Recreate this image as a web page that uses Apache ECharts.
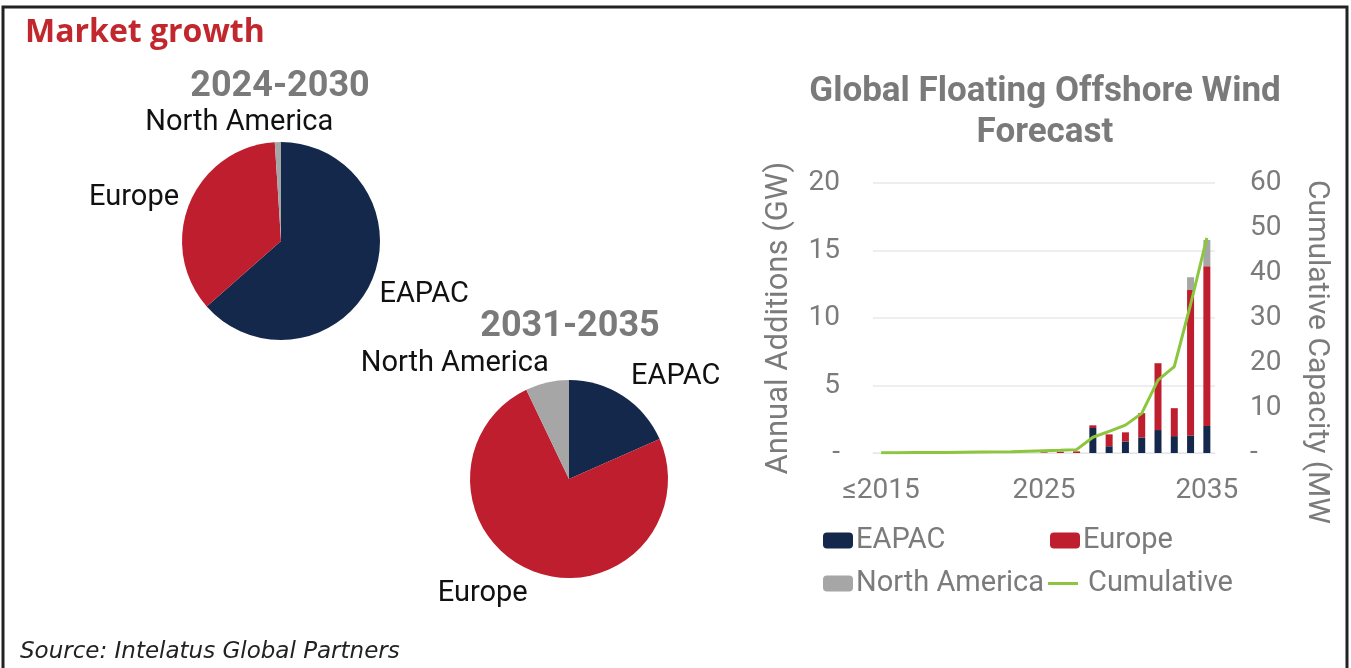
<!DOCTYPE html>
<html>
<head>
<meta charset="utf-8">
<script src="https://cdn.jsdelivr.net/npm/echarts@6/dist/echarts.min.js"></script>
<style>
html,body{margin:0;padding:0;background:#fff;}
#chart{width:1351px;height:668px;}
</style>
</head>
<body>
<div id="chart"></div>
<script>
// ---- Data ----
const years = ['≤2015','2016','2017','2018','2019','2020','2021','2022','2023','2024','2025','2026','2027','2028','2029','2030','2031','2032','2033','2034','2035'];
const eapac  = [0,0,0,0,0,0,0,0,0,0,0,0,0,1.85,0.5,0.85,1.15,1.7,1.25,1.3,2.0];
const europe = [0,0,0,0,0,0,0,0,0,0,0.05,0.1,0.12,0.2,0.88,0.68,1.8,4.95,2.07,10.77,11.83];
const northAmerica = [0,0,0,0,0,0,0,0,0,0,0,0,0,0,0,0,0,0,0,0.95,1.95];
const cumulative = [0.05,0.05,0.1,0.1,0.1,0.15,0.2,0.25,0.3,0.4,0.5,0.6,0.75,3.5,4.8,6.2,8.8,16.2,19.2,33,47.8];
const leftTicks = [0,5,10,15,20];
const rightTicks = [0,10,20,30,40,50,60];

const pieRegions = ['EAPAC','Europe','North America'];
const pie2024_2030 = [63.5, 35.5, 1.0];
const pie2031_2035 = [18.4, 74.5, 7.1];

const COLORS = {EAPAC:'#14284b', Europe:'#be1e2d', 'North America':'#a6a6a6', Cumulative:'#8cc63e'};
const GRAY = '#7b7b7b';
const FONT = 'Roboto';

const chart = echarts.init(document.getElementById('chart'));

function pieData(vals){
  return pieRegions.map((n,i)=>({name:n, value:vals[i], itemStyle:{color:COLORS[n]}}));
}
const pieLabel = {show:true, position:'outside', formatter:'{b}', color:'#111', fontFamily:FONT, fontSize:29};
// label nudges (offsets only)
const pie1Nudge = [{dx:-15, dy:5}, {dx:13, dy:2}, {dx:61, dy:1}];
const pie2Nudge = [{dx:-8, dy:-3}, {dx:5, dy:3}, {dx:11, dy:1}];

const legendText = {color:GRAY, fontSize:29, fontFamily:FONT};

const option = {
  animation:false,
  backgroundColor:'#fff',
  textStyle:{fontFamily:FONT},
  grid:{left:873, right:136, top:183, bottom:215},
  xAxis:{
    type:'category', data:years,
    axisLine:{show:true, lineStyle:{color:'#e6e6e6'}},
    axisTick:{show:false},
    axisLabel:{interval:9, color:GRAY, fontSize:28, fontFamily:FONT, margin:24}
  },
  yAxis:[{
    type:'value', min:0, max:20, interval:5,
    name:'Annual Additions (GW)', nameLocation:'middle', nameRotate:90, nameGap:78,
    nameTextStyle:{color:GRAY, fontSize:31, fontFamily:FONT},
    axisLine:{show:false}, axisTick:{show:false},
    axisLabel:{color:GRAY, fontSize:28, fontFamily:FONT, margin:33, formatter:v=>v===0?'-':String(v)},
    splitLine:{lineStyle:{color:'#e9e9e9', width:1.5}}
  },{
    type:'value', min:0, max:60, interval:10, position:'right',
    axisLine:{show:false}, axisTick:{show:false},
    axisLabel:{color:GRAY, fontSize:28, fontFamily:FONT, margin:35, formatter:v=>v===0?'-':String(v)},
    splitLine:{show:false}
  }],
  legend:[
    {data:['EAPAC'], left:823, top:526, padding:0, itemWidth:30, itemHeight:16, itemGap:0, textStyle:Object.assign({padding:[0,0,0,-2]}, legendText)},
    {data:['Europe'], left:1050, top:526, padding:0, itemWidth:30, itemHeight:16, itemGap:0, textStyle:Object.assign({padding:[0,0,0,-2]}, legendText)},
    {data:['North America'], left:823, top:569, padding:0, itemWidth:30, itemHeight:16, itemGap:0, textStyle:Object.assign({padding:[0,0,0,-2]}, legendText)},
    {data:[{name:'Cumulative', icon:'rect'}], left:1048, top:569, padding:0, itemWidth:30, itemHeight:3, itemGap:0, textStyle:Object.assign({padding:[0,0,0,5]}, legendText)}
  ],
  series:[
    {name:'EAPAC', type:'bar', stack:'a', data:eapac, barWidth:7, itemStyle:{color:COLORS.EAPAC}},
    {name:'Europe', type:'bar', stack:'a', data:europe, barWidth:7, itemStyle:{color:COLORS.Europe}},
    {name:'North America', type:'bar', stack:'a', data:northAmerica, barWidth:7, itemStyle:{color:COLORS['North America']}},
    {name:'Cumulative', type:'line', yAxisIndex:1, data:cumulative, symbol:'none', showSymbol:false,
     lineStyle:{color:COLORS.Cumulative, width:3}, itemStyle:{color:COLORS.Cumulative}, z:5},
    {name:'2024-2030', type:'pie', center:[281,241], radius:[0,99], startAngle:90, clockwise:true,
     avoidLabelOverlap:false, data:pieData(pie2024_2030), label:pieLabel,
     labelLine:{show:false, length:20, length2:0},
     labelLayout:function(p){ return pie1Nudge[p.dataIndex]; }},
    {name:'2031-2035', type:'pie', center:[569,479], radius:[0,99], startAngle:90, clockwise:true,
     avoidLabelOverlap:false, data:pieData(pie2031_2035), label:pieLabel,
     labelLine:{show:false, length:20, length2:0},
     labelLayout:function(p){ return pie2Nudge[p.dataIndex]; }}
  ],
  graphic:[
    {type:'rect', shape:{x:3, y:7, width:1344, height:720}, style:{fill:'none', stroke:'#222', lineWidth:3}, silent:true},
    {type:'text', x:25, y:33, style:{text:'Market growth', font:'bold 32px "Open Sans"', fill:'#c1272d', align:'left', verticalAlign:'middle'}},
    {type:'text', x:280, y:87, style:{text:'2024-2030', font:'bold 36px Roboto', fill:'#7a7a7a', align:'center', verticalAlign:'middle'}},
    {type:'text', x:570, y:327, style:{text:'2031-2035', font:'bold 36px Roboto', fill:'#7a7a7a', align:'center', verticalAlign:'middle'}},
    {type:'text', x:1045, y:113, style:{text:'Global Floating Offshore Wind\nForecast', font:'bold 35px Roboto', lineHeight:41, fill:'#7a7a7a', align:'center', verticalAlign:'middle'}},
    {type:'text', x:1316, y:352, rotation:-Math.PI/2, style:{text:'Cumulative Capacity (MW', font:'30px Roboto', fill:GRAY, align:'center', verticalAlign:'middle'}},
    {type:'text', x:20, y:652, style:{text:'Source: Intelatus Global Partners', font:'italic 23px "DejaVu Sans"', fill:'#222', align:'left', verticalAlign:'middle'}}
  ]
};
chart.setOption(option);
</script>
</body>
</html>
